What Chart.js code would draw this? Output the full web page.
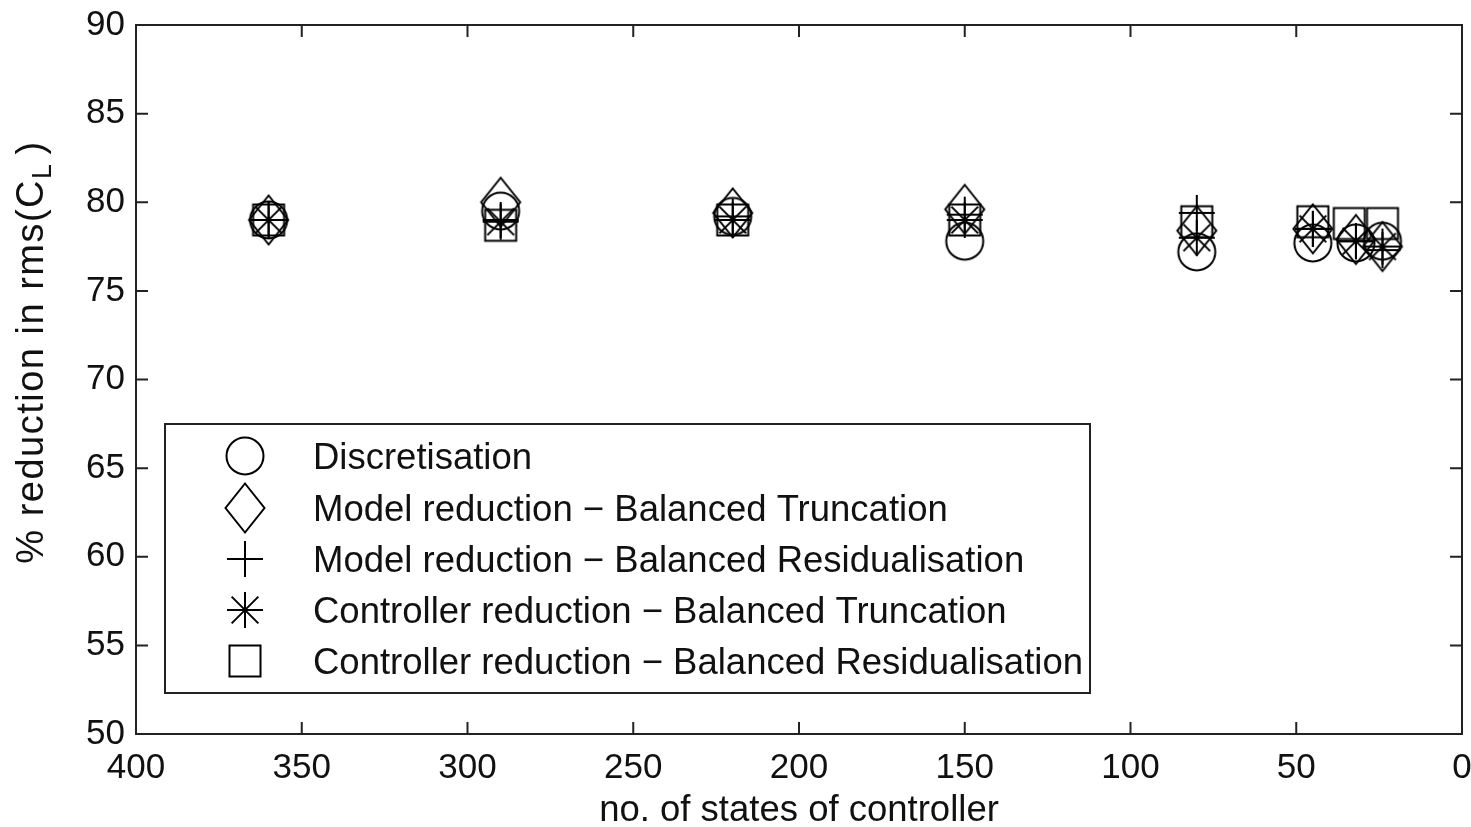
<!DOCTYPE html>
<html><head><meta charset="utf-8">
<script src="https://cdn.jsdelivr.net/npm/chart.js@4.4.1/dist/chart.umd.min.js"></script>
<style>html,body{margin:0;padding:0;background:#fff;}#wrap{position:relative;width:1471px;height:827px;}</style>
</head><body><div id="wrap"><canvas id="c" width="1471" height="827"></canvas></div>
<script>
// ---- data ----
const seriesLabels = [
  'Discretisation',
  'Model reduction \u2212 Balanced Truncation',
  'Model reduction \u2212 Balanced Residualisation',
  'Controller reduction \u2212 Balanced Truncation',
  'Controller reduction \u2212 Balanced Residualisation'
];
const discX = [360, 290, 220, 150, 80, 45, 32, 24];
const discY = [79.0, 79.5, 79.2, 77.8, 77.2, 77.7, 77.7, 77.8];
const mbtX  = [360, 290, 220, 150, 80, 45, 32, 24];
const mbtY  = [79.0, 80.0, 79.4, 79.6, 78.4, 78.5, 77.9, 77.5];
const mbrX  = [360, 290, 220, 150, 80, 45, 32, 24];
const mbrY  = [79.0, 79.0, 79.2, 79.3, 79.4, 78.5, 77.8, 77.3];
const cbtX  = [360, 290, 220, 150, 80, 45, 32, 24];
const cbtY  = [79.0, 78.9, 79.0, 79.0, 78.0, 78.5, 77.8, 77.5];
const cbrX  = [360, 290, 220, 150, 80, 45, 34, 24];
const cbrY  = [79.0, 78.7, 79.0, 79.0, 78.9, 78.9, 78.8, 78.8];
const xTickStep = 50, xMin = 0, xMax = 400;
const yTickStep = 5, yMin = 50, yMax = 90;
const xTitle = 'no. of states of controller';
const yTitleMain = '% reduction in rms(C';
const yTitleSub = 'L';
const yTitleEnd = ')';

const FONT = '"Liberation Sans", Arial, Helvetica, sans-serif';
const INK = '#111';

// ---- marker shapes ----
function mk(w, h, fn) {
  const c = document.createElement('canvas');
  c.width = w; c.height = h;
  const g = c.getContext('2d');
  g.strokeStyle = '#000'; g.lineWidth = 2; g.lineCap = 'butt';
  fn(g, w / 2, h / 2);
  return c;
}
const mCircle = mk(42, 42, (g, cx, cy) => { g.beginPath(); g.arc(cx, cy, 18.5, 0, Math.PI * 2); g.stroke(); });
const mDiamond = mk(44, 54, (g, cx, cy) => { g.beginPath(); g.moveTo(cx, cy - 24.5); g.lineTo(cx + 19.5, cy); g.lineTo(cx, cy + 24.5); g.lineTo(cx - 19.5, cy); g.closePath(); g.stroke(); });
const mPlus = mk(40, 40, (g, cx, cy) => { g.beginPath(); g.moveTo(cx - 18, cy); g.lineTo(cx + 18, cy); g.moveTo(cx, cy - 18); g.lineTo(cx, cy + 18); g.stroke(); });
const mStar = mk(40, 40, (g, cx, cy) => {
  g.beginPath();
  g.moveTo(cx - 18, cy); g.lineTo(cx + 18, cy);
  g.moveTo(cx, cy - 18); g.lineTo(cx, cy + 18);
  const d = 18 * Math.SQRT1_2 * 1.05;
  g.moveTo(cx - d, cy - d); g.lineTo(cx + d, cy + d);
  g.moveTo(cx - d, cy + d); g.lineTo(cx + d, cy - d);
  g.stroke();
  g.fillStyle = '#000'; g.beginPath(); g.arc(cx, cy, 2, 0, Math.PI * 2); g.fill();
});
const mSquare = mk(36, 36, (g, cx, cy) => { g.strokeRect(cx - 15.5, cy - 15.5, 31, 31); });
const markers = [mCircle, mDiamond, mPlus, mStar, mSquare];

function pts(xs, ys) { return xs.map((x, i) => ({ x: x, y: ys[i] })); }
const allX = [discX, mbtX, mbrX, cbtX, cbrX];
const allY = [discY, mbtY, mbrY, cbtY, cbrY];
const datasets = seriesLabels.map((lab, i) => ({
  label: lab,
  data: pts(allX[i], allY[i]),
  pointStyle: markers[i],
  pointRadius: 18,
  showLine: false,
  clip: false
}));

function zeroPad(s) { s.paddingTop = 0; s.paddingBottom = 0; s.paddingLeft = 0; s.paddingRight = 0; }

// ---- plugins ----
const framePlugin = {
  id: 'frame',
  beforeDatasetsDraw(chart) {
    const { ctx, chartArea: a, scales } = chart;
    ctx.save();
    ctx.strokeStyle = '#222'; ctx.lineWidth = 2;
    ctx.strokeRect(a.left, a.top, a.right - a.left, a.bottom - a.top);
    ctx.beginPath();
    const T = 12;
    for (let v = xMin; v <= xMax; v += xTickStep) {
      const px = scales.x.getPixelForValue(v);
      ctx.moveTo(px, a.bottom); ctx.lineTo(px, a.bottom - T);
      ctx.moveTo(px, a.top); ctx.lineTo(px, a.top + T);
    }
    for (let v = yMin; v <= yMax; v += yTickStep) {
      const py = scales.y.getPixelForValue(v);
      ctx.moveTo(a.left, py); ctx.lineTo(a.left + T, py);
      ctx.moveTo(a.right, py); ctx.lineTo(a.right - T, py);
    }
    ctx.stroke();
    ctx.restore();
  },
  afterDraw(chart) {
    const { ctx, chartArea: a } = chart;
    // x title
    ctx.save();
    ctx.fillStyle = INK;
    ctx.font = '36.5px ' + FONT;
    ctx.textAlign = 'center'; ctx.textBaseline = 'alphabetic';
    ctx.fillText(xTitle, (a.left + a.right) / 2, 821);
    ctx.restore();

    // y title with subscript
    ctx.save();
    ctx.fillStyle = INK;
    ctx.textBaseline = 'alphabetic';
    try { ctx.letterSpacing = '1.5px'; } catch (e) {}
    const big = '38px ' + FONT, small = '27px ' + FONT;
    ctx.font = big; const w1 = ctx.measureText(yTitleMain).width; const w3 = ctx.measureText(yTitleEnd).width;
    ctx.font = small; const w2 = ctx.measureText(yTitleSub).width;
    const gap = 8;
    const total = w1 + w2 + gap + w3;
    const cy = 352;
    ctx.translate(43, cy);
    ctx.rotate(-Math.PI / 2);
    let x0 = -total / 2;
    ctx.font = big; ctx.fillText(yTitleMain, x0, 0);
    ctx.font = small; ctx.fillText(yTitleSub, x0 + w1, 8);
    ctx.font = big; ctx.fillText(yTitleEnd, x0 + w1 + w2 + gap, 0);
    ctx.restore();

    // legend
    ctx.save();
    const L = 165, Tp = 424, R = 1090, B = 693;
    ctx.fillStyle = '#fff';
    ctx.fillRect(L, Tp, R - L, B - Tp);
    ctx.strokeStyle = '#222'; ctx.lineWidth = 2;
    ctx.strokeRect(L, Tp, R - L, B - Tp);
    const rows = [456, 507.5, 558.5, 609.5, 660.5];
    ctx.font = '36.5px ' + FONT; ctx.fillStyle = INK; ctx.textBaseline = 'alphabetic'; ctx.textAlign = 'left';
    chart.data.datasets.forEach((ds, i) => {
      const m = ds.pointStyle;
      ctx.drawImage(m, Math.round(244.5 - m.width / 2), Math.round(rows[i] - m.height / 2));
      ctx.fillText(ds.label, 313, rows[i] + 13);
    });
    ctx.restore();
  }
};

new Chart(document.getElementById('c'), {
  type: 'scatter',
  data: { datasets },
  options: {
    responsive: false,
    animation: false,
    layout: { autoPadding: false, padding: { left: 0, top: 25, right: 9, bottom: 0 } },
    plugins: { legend: { display: false }, tooltip: { enabled: false } },
    scales: {
      x: {
        type: 'linear', reverse: true, min: xMin, max: xMax,
        ticks: { stepSize: xTickStep, font: { size: 35, family: FONT }, color: INK, padding: 13, maxRotation: 0, autoSkip: false },
        grid: { display: false, drawTicks: false },
        border: { display: false },
        title: { display: false },
        afterFit(s) { s.height = 93; zeroPad(s); }
      },
      y: {
        type: 'linear', min: yMin, max: yMax,
        ticks: { stepSize: yTickStep, font: { size: 35, family: FONT }, color: INK, padding: 11, autoSkip: false },
        grid: { display: false, drawTicks: false },
        border: { display: false },
        afterFit(s) { s.width = 136; zeroPad(s); }
      }
    }
  },
  plugins: [framePlugin]
});
</script>
</body></html>
